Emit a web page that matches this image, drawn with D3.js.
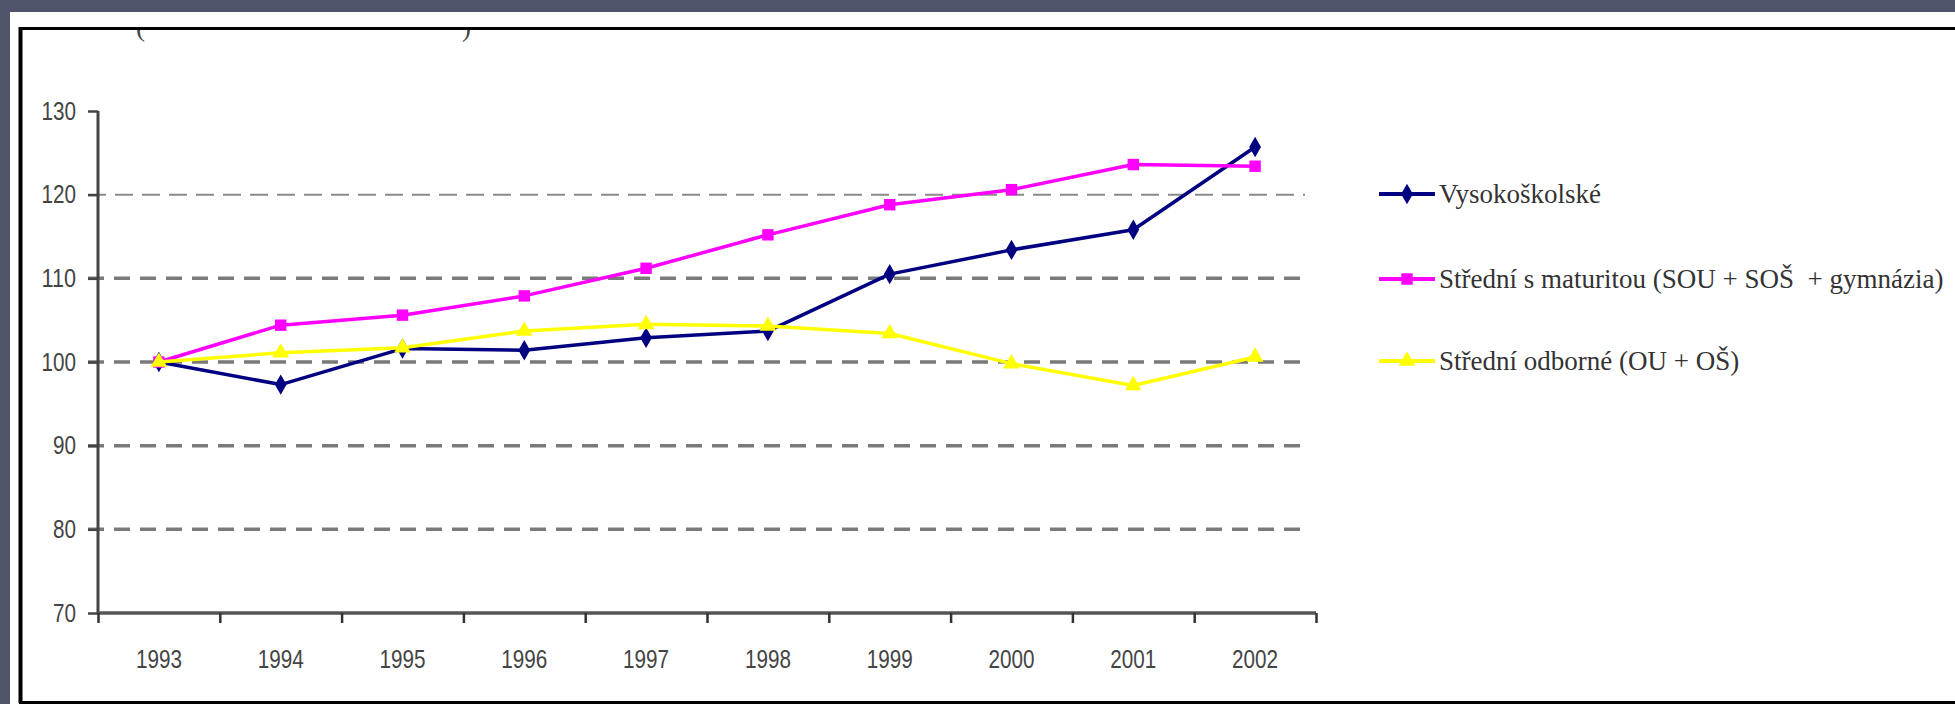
<!DOCTYPE html>
<html>
<head>
<meta charset="utf-8">
<script src="https://cdn.jsdelivr.net/npm/d3@7/dist/d3.min.js"></script>
<style>
  html, body { margin: 0; padding: 0; background: #50546a; }
  svg { display: block; }
</style>
</head>
<body>
<svg id="chart" width="1955" height="704"></svg>
<script>
// ---- data ----
const years = ["1993","1994","1995","1996","1997","1998","1999","2000","2001","2002"];
const vysokoskolske = [100, 97.3, 101.6, 101.4, 102.9, 103.7, 110.5, 113.4, 115.8, 125.7];
const stredniMaturita = [100, 104.4, 105.6, 107.9, 111.2, 115.2, 118.8, 120.6, 123.6, 123.4];
const stredniOdborne = [100, 101.1, 101.7, 103.7, 104.5, 104.3, 103.4, 99.8, 97.2, 100.6];
const yTickValues = [70, 80, 90, 100, 110, 120, 130];
const gridValues = [80, 90, 100, 110, 120];
const seriesNames = ["Vysokoškolské", "Střední s maturitou (SOU + SOŠ  + gymnázia)", "Střední odborné (OU + OŠ)"];

// ---- setup ----
const svg = d3.select("#chart");
const W = 1955, H = 704;

// white panel
svg.append("rect").attr("x", 10).attr("y", 12).attr("width", W - 10).attr("height", H - 12).attr("fill", "#ffffff");

// clipped title fragments (title cut off at top of frame)
const clip = svg.append("defs").append("clipPath").attr("id", "titleclip");
clip.append("rect").attr("x", 20).attr("y", 30).attr("width", 600).attr("height", 20);
const tg = svg.append("g").attr("clip-path", "url(#titleclip)")
  .style("font-family", "'Liberation Serif', 'Times New Roman', serif").style("font-size", "27px").attr("fill", "#444");
tg.append("text").attr("x", 136).attr("y", 36).text("(");
tg.append("text").attr("x", 462).attr("y", 36).text(")");

// black frame
svg.append("line").attr("x1", 19).attr("x2", W).attr("y1", 28.5).attr("y2", 28.5).attr("stroke", "#000").attr("stroke-width", 3);
svg.append("line").attr("x1", 20.5).attr("x2", 20.5).attr("y1", 27).attr("y2", 703).attr("stroke", "#000").attr("stroke-width", 4);
svg.append("line").attr("x1", 19).attr("x2", W).attr("y1", 702.5).attr("y2", 702.5).attr("stroke", "#000").attr("stroke-width", 3);

// scales
const x = d3.scaleBand().domain(years).range([98, 1316]);
const xEdges = d3.scaleLinear().domain([0, years.length]).range([98, 1316]);
const y = d3.scaleLinear().domain([70, 130]).range([613, 111]);
const cx = d => x(d) + x.bandwidth() / 2;

// grid lines
const grid = svg.append("g");
grid.selectAll("line").data(gridValues).enter().append("line")
  .attr("x1", 88).attr("x2", 1305)
  .attr("y1", d => y(d)).attr("y2", d => y(d))
  .attr("stroke", d => d === 120 ? "#8a8a8a" : "#7a7a7a")
  .attr("stroke-width", d => d === 120 ? 2 : 3.5)
  .attr("stroke-dasharray", d => d === 120 ? "18,9" : "16,10");

const labelFont = "'Liberation Sans', Arial, sans-serif";

// y axis
const yAxis = svg.append("g").attr("transform", "translate(98,0)")
  .call(d3.axisLeft(y).tickValues(yTickValues).tickSize(10).tickPadding(12).tickFormat(d3.format("d")));
yAxis.select(".domain").attr("stroke", "#444").attr("stroke-width", 3).attr("d", `M0,${y(130)}V${y(70)}`);
yAxis.selectAll(".tick line").attr("stroke", "#444").attr("stroke-width", 2.5);
yAxis.selectAll(".tick text").style("font-family", labelFont).style("font-size", "25px").attr("fill", "#444")
  .attr("textLength", function() { return this.textContent.length * 11.5; })
  .attr("lengthAdjust", "spacingAndGlyphs");

// x axis: ticks at band edges
const xAxisTicks = svg.append("g").attr("transform", "translate(0,613)")
  .call(d3.axisBottom(xEdges).ticks(years.length).tickSize(10).tickFormat(""));
xAxisTicks.select(".domain").attr("stroke", "#555").attr("stroke-width", 3.5).attr("d", `M${xEdges(0)},0H${xEdges(years.length)}`);
xAxisTicks.selectAll(".tick line").attr("stroke", "#333").attr("stroke-width", 2.5);

// x labels at band centers
const xAxisLabels = svg.append("g").attr("transform", "translate(0,613)")
  .call(d3.axisBottom(x).tickSize(0).tickPadding(37));
xAxisLabels.select(".domain").remove();
xAxisLabels.selectAll(".tick text").style("font-family", labelFont).style("font-size", "25px").attr("fill", "#444")
  .attr("textLength", function() { return this.textContent.length * 11.5; })
  .attr("lengthAdjust", "spacingAndGlyphs");

// series
const series = [
  { name: seriesNames[0], values: vysokoskolske, color: "#000080", marker: "diamond" },
  { name: seriesNames[1], values: stredniMaturita, color: "#ff00ff", marker: "square" },
  { name: seriesNames[2], values: stredniOdborne, color: "#ffff00", marker: "triangle" }
];
const symbolType = { diamond: d3.symbolDiamond, square: d3.symbolSquare, triangle: d3.symbolTriangle };
const symbolSize = { diamond: 120, square: 130, triangle: 120 };

const line = d3.line().x((d, i) => cx(years[i])).y(d => y(d));

series.forEach(s => {
  const g = svg.append("g");
  g.append("path").datum(s.values).attr("d", line)
    .attr("fill", "none").attr("stroke", s.color).attr("stroke-width", 3.5).attr("stroke-linejoin", "round");
  g.selectAll("path.m").data(s.values).enter().append("path").attr("class", "m")
    .attr("transform", (d, i) => `translate(${cx(years[i])},${y(d)})`)
    .attr("d", d3.symbol().type(symbolType[s.marker]).size(symbolSize[s.marker]))
    .attr("fill", s.color);
});

// legend
const legendY = [194, 279, 361];
const legend = svg.append("g");
series.forEach((s, i) => {
  const g = legend.append("g").attr("transform", `translate(0,${legendY[i]})`);
  g.append("line").attr("x1", 1379).attr("x2", 1435).attr("y1", 0).attr("y2", 0)
    .attr("stroke", s.color).attr("stroke-width", 4);
  g.append("path").attr("transform", "translate(1407,0)")
    .attr("d", d3.symbol().type(symbolType[s.marker]).size(symbolSize[s.marker]))
    .attr("fill", s.color);
  g.append("text").attr("x", 1439).attr("y", 9)
    .attr("xml:space", "preserve")
    .style("white-space", "pre")
    .style("font-family", "'Liberation Serif', 'Times New Roman', serif")
    .style("font-size", "27px")
    .attr("fill", "#333")
    .text(s.name);
});
</script>
</body>
</html>
